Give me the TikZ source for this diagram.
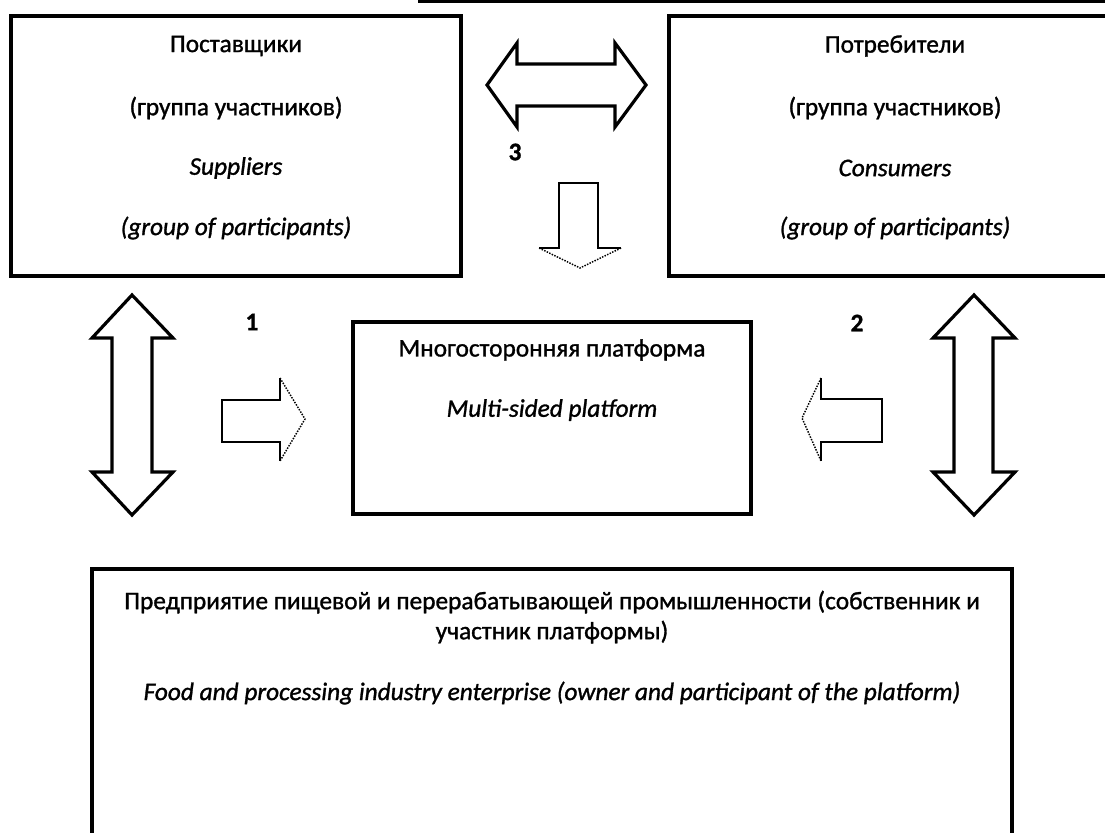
\documentclass[tikz,border=0pt]{standalone}
\usepackage{fontspec}
\setmainfont{Carlito}[FakeBold=1.2]
\usetikzlibrary{fit}
\begin{document}
\begin{tikzpicture}[x=0.75pt,y=-0.75pt,
  box/.style={draw=black, line width=2.5pt, inner sep=0pt},
  txt/.style={font=\fontsize{19}{23}\selectfont, inner sep=0pt, anchor=center},
  itxt/.style={font=\fontsize{19}{23}\selectfont\itshape, inner sep=0pt, anchor=center},
  num/.style={font=\fontsize{19}{23}\selectfont\bfseries, inner sep=0pt},
  bigarrow/.style={draw=black, line width=2.4pt, line join=miter, fill=white},
  thinarrow/.style={draw=black, line width=1.1pt},
  dothead/.style={draw=black, line width=1.1pt, densely dotted}
]
\useasboundingbox (0,0) rectangle (1105,832);
\clip (0,0) rectangle (1105,832);

% top border line (cut-off box above)
\coordinate (tlA) at (418,1.5);
\coordinate (tlB) at (1110,1.5);
\draw[line width=2.25pt] (tlA) -- (tlB);

% boxes
\node[box, fit={(11,16) (461,276)}] (sup) {};
\node[box, fit={(669,16) (1122,276)}] (con) {};
\node[box, fit={(353,322) (751,514)}] (msp) {};
\node[box, fit={(92,569) (1012,860)}] (ent) {};

% supplier texts
\node[txt]  (sup1) at (236,46)  {Поставщики};
\node[txt]  (sup2) at (236,108) {(группа участников)};
\node[itxt] (sup3) at (236,168) {Suppliers};
\node[itxt] (sup4) at (236,228) {(group of participants)};

% consumer texts
\node[txt]  (con1) at (895,46)  {Потребители};
\node[txt]  (con2) at (895,108) {(группа участников)};
\node[itxt] (con3) at (895,168) {Consumers};
\node[itxt] (con4) at (895,228) {(group of participants)};

% platform texts
\node[txt]  (msp1) at (552,350) {Многосторонняя платформа};
\node[itxt] (msp2) at (552,410) {Multi-sided platform};

% enterprise texts
\node[txt]  (ent1) at (552,602) {Предприятие пищевой и перерабатывающей промышленности (собственник и};
\node[txt]  (ent2) at (552,632) {участник платформы)};
\node[itxt] (ent3) at (552,693) {Food and processing industry enterprise (owner and participant of the platform)};

% numbers
\node[num] (n1) at (252,322) {1};
\node[num] (n2) at (857,323) {2};
\node[num] (n3) at (515,152) {3};

% double arrow 3 (horizontal, between suppliers and consumers)
\draw[bigarrow] (487,85) -- (517,43) -- (517,64) -- (615,64) -- (615,43) -- (646,85)
  -- (615,127) -- (615,106) -- (517,106) -- (517,127) -- cycle;

% down arrow (3 -> platform)
\draw[thinarrow] (539,248) -- (559,248) -- (559,183) -- (598,183) -- (598,248) -- (621,248);
\draw[dothead] (621,248) -- (580,268) -- (539,248);

% left vertical double arrow
\draw[bigarrow] (132,295) -- (173,338) -- (152,338) -- (152,472) -- (173,472) -- (132,515)
  -- (92,472) -- (112,472) -- (112,338) -- (92,338) -- cycle;

% right vertical double arrow
\draw[bigarrow] (974,295) -- (1015,338) -- (993,338) -- (993,472) -- (1015,472) -- (974,515)
  -- (933,472) -- (954,472) -- (954,338) -- (933,338) -- cycle;

% arrow 1 (right, into platform)
\draw[thinarrow] (280,378) -- (280,400) -- (222,400) -- (222,442) -- (280,442) -- (280,461);
\draw[dothead] (280,378) -- (305,419) -- (280,461);

% arrow 2 (left, into platform)
\draw[thinarrow] (821,378) -- (821,399) -- (882,399) -- (882,442) -- (821,442) -- (821,461);
\draw[dothead] (821,378) -- (802,418) -- (821,461);
\end{tikzpicture}
\end{document}
